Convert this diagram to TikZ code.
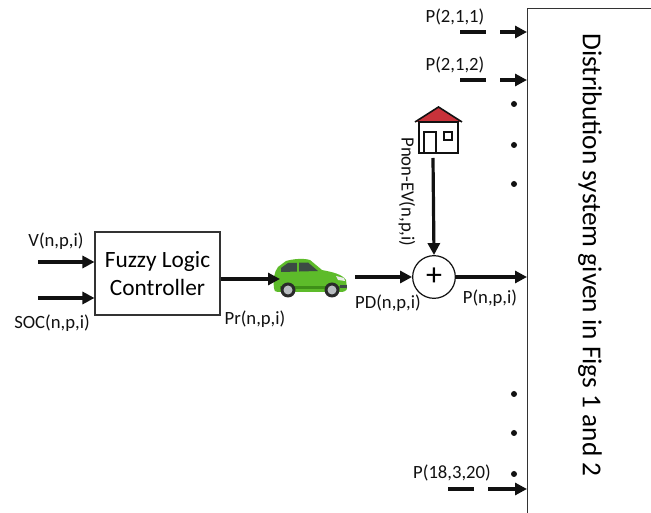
\documentclass[tikz,border=0pt]{standalone}
\usepackage{fontspec}
\setmainfont{Carlito}
\usetikzlibrary{arrows.meta,positioning,calc}
\definecolor{Ink}{HTML}{111111}
\definecolor{Frame}{HTML}{333333}
\definecolor{CarGreen}{HTML}{5DBB2A}
\definecolor{CarDark}{HTML}{3E8F18}
\definecolor{Glass}{HTML}{3C4A44}
\definecolor{Tire}{HTML}{2A2A2A}
\definecolor{Rim}{HTML}{B8BCC0}
\definecolor{Roof}{HTML}{C8323A}
\tikzset{
 flow/.style={-{Triangle[length=9pt,width=9pt]}, line width=2.4pt, draw=Ink},
 feed/.style={flow, dash pattern=on 19.5pt off 10.5pt on 80pt off 0pt},
 lbl/.style={font=\fontsize{14}{16}\selectfont, inner sep=0pt, text=Ink},
 box/.style={draw=Frame, line width=0.8pt, fill=white, align=center}
}
\begin{document}
\begin{tikzpicture}[x=0.75pt,y=-0.75pt]
\useasboundingbox (0,0) rectangle (651,513);
\node[box,minimum width=93.75pt,minimum height=62.25pt,font=\fontsize{17.5}{21}\selectfont] (flc) at (157.5,273.5) {Fuzzy Logic\\Controller};
\coordinate (vin) at (38,262);
\coordinate (socin) at (38,298);
\draw[flow] (vin)--(vin -| flc.west);\draw[flow] (socin)--(socin -| flc.west);
\node[lbl] (vlbl) at (56,241) {V(n,p,i)};
\node[lbl] (soclbl) at (52,323) {SOC(n,p,i)};
% the car
\begin{scope}[shift={(272,258)}]
\fill[CarGreen] (2,30) .. controls (1,22) and (2,14) .. (6,9) -- (14,3) .. controls (20,1) and (32,0) .. (38,2) -- (50,12) .. controls (60,14) and (70,16) .. (74,22) -- (75,30) .. controls (75,33) and (72,34) .. (68,34) -- (6,34) .. controls (3,34) and (2,33) .. (2,30) -- cycle;
\fill[Glass] (9,10) -- (16,5) -- (36,4.5) -- (46,13) -- (9,14) -- cycle;
\fill[CarGreen] (25,4) rectangle (27,14);
\fill[CarDark] (8,28) rectangle (68,31);
\fill[white!85!gray] (64,18) -- (72,20) -- (73,23) -- (66,22) -- cycle;
\fill[Glass] (68,27) rectangle (75,30);
\fill[Tire] (16,32) circle (7.5);\fill[Rim] (16,32) circle (4.5);
\fill[Tire] (60,32) circle (7.5);\fill[Rim] (60,32) circle (4.5);
\end{scope}
\coordinate (carin) at (280,279);
\coordinate (carout) at (355,277);
\draw[flow] (flc.east |- carin)--(carin);
\node[lbl] (prlbl) at (255,319) {Pr(n,p,i)};
\node[draw=Ink,circle,line width=0.9pt,minimum size=32pt,inner sep=0pt,font=\fontsize{24}{24}\selectfont] (sum) at (434,277) {+};
\draw[flow] (carout)--(sum.west);
\node[lbl] (pdlbl) at (388,303) {PD(n,p,i)};
% the house
\begin{scope}[shift={(415,107)}]
\fill[Roof] (0,15) -- (23.5,0) -- (47,15) -- cycle;
\draw[Ink,line width=1.2pt] (0,15) -- (23.5,0) -- (47,15);
\draw[Ink,line width=1.5pt,fill=white] (4,15) rectangle (43,46);
\draw[Ink,line width=1.2pt] (9,25) rectangle (21,46) (29,25) rectangle (37,33);
\end{scope}
\coordinate (house) at (433,158);
\draw[flow] (house)--(sum.north);
\node[lbl,rotate=-90] (nevlbl) at (407,192) {Pnon-EV(n,p,i)};
\node[box,minimum width=99.75pt,minimum height=384pt,anchor=north west] (dist) at (527,8) {};
\node[rotate=-90,font=\fontsize{20.5}{23}\selectfont] (distlbl) at (590,255) {Distribution system given in Figs 1 and 2};
\draw[flow] (sum.east)--(sum.east -| dist.west);
\node[lbl] (plbl) at (490,298) {P(n,p,i)};
\coordinate (f1) at (460,32);
\coordinate (f2) at (460,80);
\coordinate (f3) at (448,489);
\draw[feed] (f1)--(f1 -| dist.west);\draw[feed] (f2)--(f2 -| dist.west);\draw[feed] (f3)--(f3 -| dist.west);
\node[lbl] (f1lbl) at (455,17) {P(2,1,1)};
\node[lbl] (f2lbl) at (455,65) {P(2,1,2)};
\node[lbl] (f3lbl) at (452,473) {P(18,3,20)};
\foreach \y in {104,145,184,394,433,474} \fill[Ink] (514,\y) circle (3);
\end{tikzpicture}
\end{document}
